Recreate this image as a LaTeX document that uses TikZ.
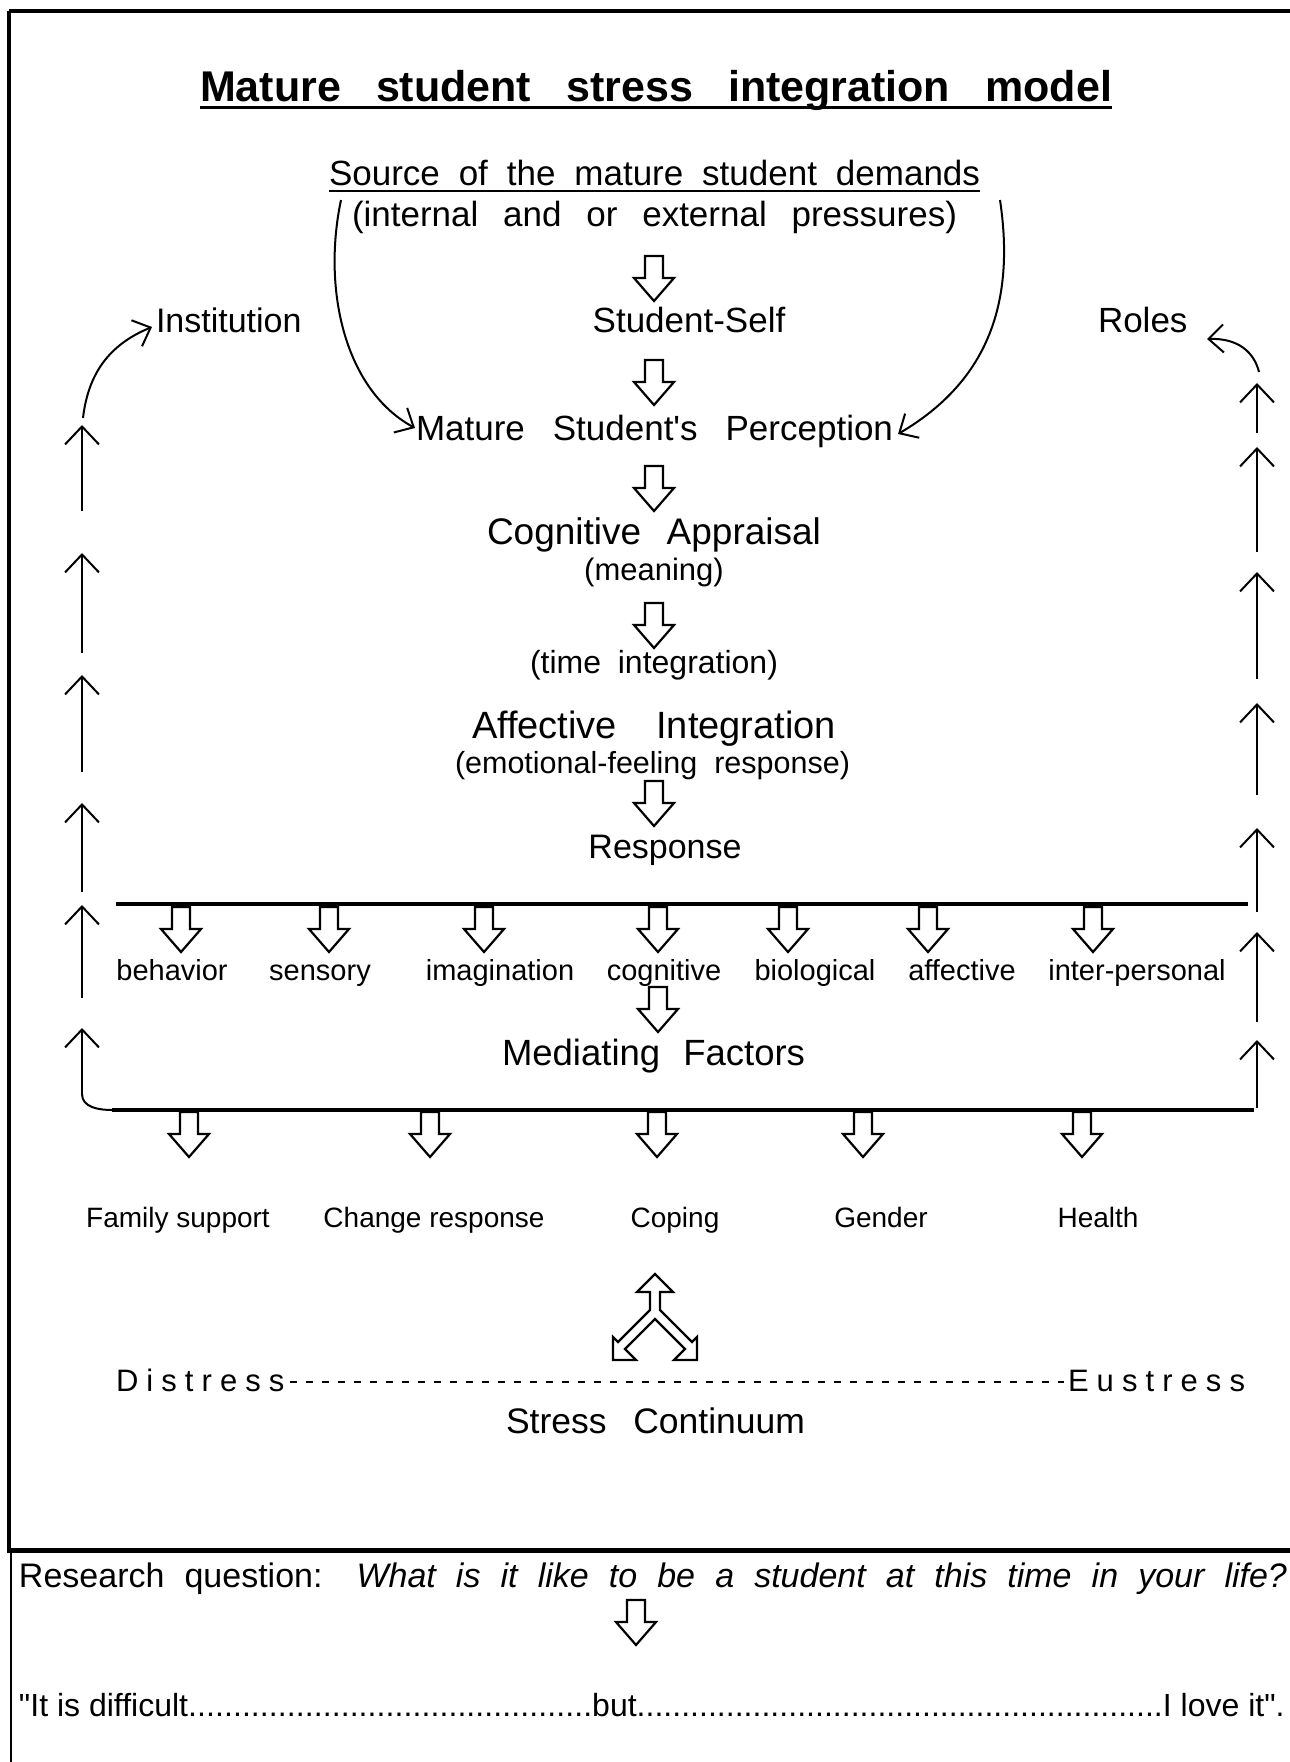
\documentclass[tikz,border=0pt]{standalone}
\usepackage{fontspec}
\setmainfont{Liberation Sans}[Ligatures=TeXOff]
\usetikzlibrary{arrows.meta}
\newcommand\fsz[1]{\fontsize{#1pt}{#1pt}\selectfont}
\newcommand\mydotfill{\xleaders\hbox{.}\hfill}
\begin{document}
\begin{tikzpicture}[x=1pt,y=-1pt,
  txt/.style={inner sep=0pt, outer sep=0pt},
  ln/.style={line width=2pt},
  thick line/.style={line width=3.5pt},
  upar/.style={line width=2pt, -{Straight Barb[length=18pt,width=34pt]}},
  curv/.style={line width=2pt, -{Straight Barb[length=15pt,width=28pt]}},
  barrow/.pic={\draw[line width=2.2pt, line join=miter, fill=white]
     (-9,0) -- (9,0) -- (9,22) -- (20,22) -- (0,45) -- (-20,22) -- (-9,22) -- cycle;}
]
\useasboundingbox (0,0) rectangle (1290,1762);
\fill[white] (0,0) rectangle (1290,1762);

% frame
\draw[line width=3.5pt] (9,11) -- (1290,11);
\draw[line width=3.5pt] (9,11) -- (9,1550);
\draw[line width=5pt] (7,1550) -- (1290,1550);
\draw[line width=1.5pt] (11,1550) -- (11,1762);

% title
\node[txt, anchor=base west, font=\bfseries\fsz{43}] (title) at (200,101)
  {\makebox[912pt][s]{Mature student stress integration model}};
\draw[line width=3pt] (200,107) -- (1112,107);

% source
\node[txt, anchor=base west, font=\fsz{35}] (src) at (329,185)
  {\makebox[651pt][s]{Source of the mature student demands}};
\draw[line width=2pt] (329,191) -- (980,191);
\node[txt, anchor=base west, font=\fsz{35}] (press) at (352,226)
  {\makebox[605pt][s]{(internal and or external pressures)}};

\node[txt, anchor=base, font=\fsz{35}] (self) at (689,332) {Student-Self};
\node[txt, anchor=base west, font=\fsz{34}] (inst) at (156,332) {Institution};
\node[txt, anchor=base west, font=\fsz{35}] (roles) at (1098,332) {Roles};
\node[txt, anchor=base west, font=\fsz{35}] (perc) at (416,440)
  {\makebox[477pt][s]{Mature Student's Perception}};
\node[txt, anchor=base west, font=\fsz{37}] (cog) at (487,544)
  {\makebox[334pt][s]{Cognitive Appraisal}};
\node[txt, anchor=base, font=\fsz{31}] (mean) at (654,580) {(meaning)};
\node[txt, anchor=base west, font=\fsz{32}] (time) at (530,673)
  {\makebox[248pt][s]{(time integration)}};
\node[txt, anchor=base west, font=\fsz{38}] (aff) at (472,738)
  {\makebox[364pt][s]{Affective Integration}};
\node[txt, anchor=base west, font=\fsz{30.5}] (emo) at (455,773)
  {\makebox[395pt][s]{(emotional-feeling response)}};
\node[txt, anchor=base, font=\fsz{34}] (resp) at (665,858) {Response};

% main column block arrows
\foreach \yy in {256,360,466,603,781} { \pic at (654,\yy) {barrow}; }

% side curves
\coordinate (lc0) at (341,200);
\coordinate (rc0) at (1000,200);
\draw[curv] (lc0) .. controls (322,290) and (345,390) .. (415,428);
\draw[curv] (rc0) .. controls (1015,300) and (990,380) .. (898,434);

% institution and roles curves
\draw[curv] (83,418) .. controls (88,375) and (108,345) .. (152,327);
\draw[curv] (1259,372) .. controls (1254,352) and (1238,338) .. (1207,339);

% left column
\foreach \a/\b in {425/511,553/653,675/772,803/892,905/998,1028/1094}
  { \draw[upar] (82,\b) -- (82,\a); }
\draw[ln] (82,1094) to[out=-90,in=180] (112,1110);
% right column
\foreach \a/\b in {383/433,447/552,572/679,703/795,828/912,932/1022,1040/1108}
  { \draw[upar] (1257,\b) -- (1257,\a); }

% response line and factors
\draw[thick line] (116,904) -- (1248,904);
\foreach \xx in {181,329,484,658,788,928,1093} { \pic at (\xx,907) {barrow}; }
\foreach \xx/\t/\n in {172/behavior/f1,320/sensory/f2,500/imagination/f3,664/cognitive/f4,815/biological/f5,962/affective/f6,1137/inter-personal/f7}
  { \node[txt, anchor=base, font=\fsz{29}] (\n) at (\xx,980) {\t}; }
\pic at (658,987) {barrow};
\node[txt, anchor=base west, font=\fsz{36.5}] (med) at (502,1065)
  {\makebox[303pt][s]{Mediating Factors}};

% mediating line and factors
\draw[thick line] (112,1110) -- (1254,1110);
\foreach \xx in {189,430,657,863,1082} { \pic at (\xx,1112) {barrow}; }
\foreach \xx/\t/\n in {178/Family support/m1,434/Change response/m2,675/Coping/m3,881/Gender/m4,1098/Health/m5}
  { \node[txt, anchor=base, font=\fsz{28}] (\n) at (\xx,1227) {\t}; }

% three-way arrow
\draw[line width=2.2pt, line join=miter, fill=white]
  (655,1274) -- (673,1292) -- (660,1292) -- (660,1310) -- (692,1342) -- (697,1337)
  -- (697,1360) -- (674,1360) -- (685,1349) -- (655,1319) -- (625,1349) -- (636,1360)
  -- (613,1360) -- (613,1337) -- (618,1342) -- (650,1310) -- (650,1292) -- (637,1292) -- cycle;

% stress continuum
\node[txt, anchor=base west, font=\fsz{31}\addfontfeatures{LetterSpace=26}] (dis) at (116,1391) {Distress};
\node[txt, anchor=base west, font=\fsz{31}\addfontfeatures{LetterSpace=26}] (eus) at (1068,1391) {Eustress};
\coordinate (d0) at (290,1382);
\coordinate (d1) at (1064,1382);
\draw[line width=2.5pt, dash pattern=on 7pt off 9pt] (d0) -- (d1);
\node[txt, anchor=base west, font=\fsz{35.5}] (cont) at (506,1433)
  {\makebox[299pt][s]{Stress Continuum}};

% research question
\node[txt, anchor=base west, font=\fsz{34}] (rq) at (19,1587)
  {\makebox[1268pt][s]{Research question: \itshape What is it like to be a student at this time in your life?}};
\pic at (636,1600) {barrow};
\node[txt, anchor=base west, font=\fsz{32}] (ans) at (19,1716)
  {\hbox to 1265pt{\hbox to 573pt{"It is difficult\mydotfill}but\mydotfill I love it".}};
\end{tikzpicture}
\end{document}
